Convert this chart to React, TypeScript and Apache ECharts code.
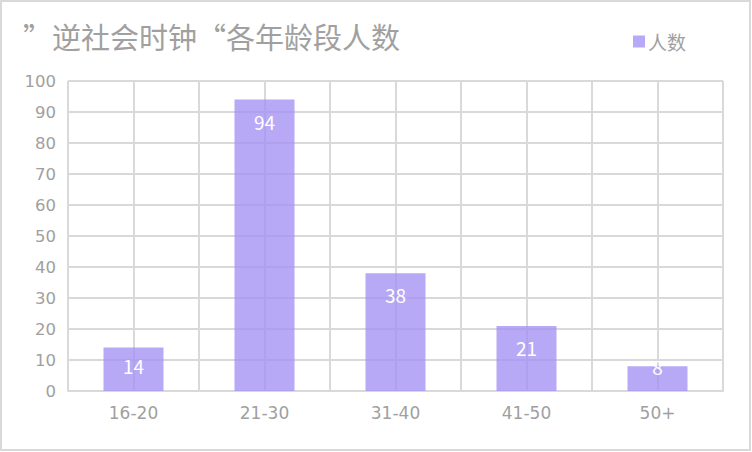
import React, { useEffect, useRef } from "react";
import * as echarts from "echarts";

const titleText = "”逆社会时钟“各年龄段人数";
const seriesName = "人数";
const categories = ["16-20", "21-30", "31-40", "41-50", "50+"];
const values = [14, 94, 38, 21, 8];
const yTicks = { min: 0, max: 100, interval: 10 };
// half-category slots used only to draw the vertical grid lines at category centres and boundaries
const halfSlots = categories.flatMap((c) => [c + "-a", c + "-b"]);

const FONT = "'Microsoft YaHei', 'Noto Sans CJK SC', sans-serif";
const AXIS_FONT = "'DejaVu Sans', sans-serif";
const GRAY = "#a0a0a0";
const GRID = "#d9d9d9";

export default function App() {
  const ref = useRef<HTMLDivElement>(null);
  useEffect(() => {
    document.body.style.margin = "0";
    const chart = echarts.init(ref.current!, undefined, { renderer: "svg" });
    chart.setOption({
      animation: false,
      backgroundColor: "#ffffff",
      textStyle: { fontFamily: FONT },
      title: {
        text: titleText,
        left: 18,
        top: 16,
        textStyle: { fontFamily: FONT, fontSize: 29, fontWeight: "normal", color: GRAY },
      },
      legend: {
        data: [seriesName],
        left: 628,
        top: 27,
        itemWidth: 12,
        itemHeight: 12,
        itemGap: 8,
        icon: "rect",
        textStyle: { fontFamily: FONT, fontSize: 19, color: GRAY, padding: [0, 0, 0, -2] },
      },
      graphic: [
        {
          type: "rect",
          shape: { x: 1, y: 1, width: 749, height: 449 },
          style: { fill: "none", stroke: GRID, lineWidth: 2 },
          silent: true,
        },
      ],
      grid: { left: 68, right: 29, top: 81, bottom: 61, containLabel: false },
      xAxis: [
        {
          type: "category",
          data: categories,
          axisLine: { show: true, lineStyle: { color: GRID, width: 2 } },
          axisTick: { show: false },
          splitLine: { show: false },
          axisLabel: { color: GRAY, fontSize: 17, fontFamily: AXIS_FONT, margin: 13 },
        },
        {
          type: "category",
          data: halfSlots,
          position: "bottom",
          show: true,
          axisLine: { show: false },
          axisTick: { show: false },
          axisLabel: { show: false },
          splitLine: { show: true, interval: 0, lineStyle: { color: GRID, width: 2 } },
        },
      ],
      yAxis: {
        type: "value",
        min: yTicks.min,
        max: yTicks.max,
        interval: yTicks.interval,
        axisLine: { show: false },
        axisTick: { show: false },
        axisLabel: { color: GRAY, fontSize: 16.5, fontFamily: AXIS_FONT, margin: 12 },
        splitLine: { show: true, lineStyle: { color: GRID, width: 2 } },
      },
      series: [
        {
          name: seriesName,
          type: "bar",
          xAxisIndex: 0,
          barWidth: 60,
          data: values.map((v, i) => ({
            value: v,
            label:
              i === values.length - 1
                ? { position: "insideTop", distance: -9 }
                : i === 0
                ? { position: "insideTop", distance: 8 }
                : { position: "insideTop", distance: 12 },
          })),
          itemStyle: { color: "rgba(164,145,244,0.78)" },
          label: {
            show: true,
            position: "insideTop",
            color: "#ffffff",
            fontSize: 19,
            fontFamily: FONT,
          },
        },
      ],
    });
    return () => chart.dispose();
  }, []);
  return <div ref={ref} style={{ width: 752, height: 452 }} />;
}
